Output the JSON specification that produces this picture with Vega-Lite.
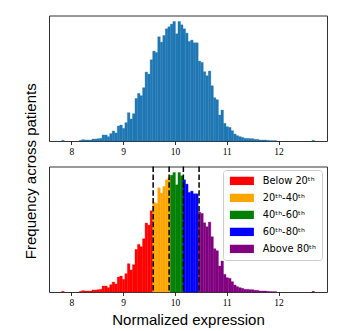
{
  "$schema": "https://vega.github.io/schema/vega-lite/v6.json",
  "background": "white",
  "padding": {"left": 23, "top": 14.5, "right": 5, "bottom": 5},
  "datasets": {
    "hist": [
      {"lo": 7.814, "hi": 7.8628, "count": 2, "group": "Below 20ᵗʰ"},
      {"lo": 8.1556, "hi": 8.2044, "count": 2, "group": "Below 20ᵗʰ"},
      {"lo": 8.2044, "hi": 8.2532, "count": 4, "group": "Below 20ᵗʰ"},
      {"lo": 8.2532, "hi": 8.302, "count": 3, "group": "Below 20ᵗʰ"},
      {"lo": 8.302, "hi": 8.3508, "count": 3, "group": "Below 20ᵗʰ"},
      {"lo": 8.3508, "hi": 8.3996, "count": 3, "group": "Below 20ᵗʰ"},
      {"lo": 8.3996, "hi": 8.4484, "count": 6, "group": "Below 20ᵗʰ"},
      {"lo": 8.4484, "hi": 8.4972, "count": 6, "group": "Below 20ᵗʰ"},
      {"lo": 8.4972, "hi": 8.546, "count": 7, "group": "Below 20ᵗʰ"},
      {"lo": 8.546, "hi": 8.5948, "count": 8, "group": "Below 20ᵗʰ"},
      {"lo": 8.5948, "hi": 8.6436, "count": 18, "group": "Below 20ᵗʰ"},
      {"lo": 8.6436, "hi": 8.6924, "count": 18, "group": "Below 20ᵗʰ"},
      {"lo": 8.6924, "hi": 8.7412, "count": 13, "group": "Below 20ᵗʰ"},
      {"lo": 8.7412, "hi": 8.79, "count": 22, "group": "Below 20ᵗʰ"},
      {"lo": 8.79, "hi": 8.8388, "count": 30, "group": "Below 20ᵗʰ"},
      {"lo": 8.8388, "hi": 8.8876, "count": 24, "group": "Below 20ᵗʰ"},
      {"lo": 8.8876, "hi": 8.9364, "count": 45, "group": "Below 20ᵗʰ"},
      {"lo": 8.9364, "hi": 8.9852, "count": 48, "group": "Below 20ᵗʰ"},
      {"lo": 8.9852, "hi": 9.034, "count": 38, "group": "Below 20ᵗʰ"},
      {"lo": 9.034, "hi": 9.0828, "count": 55, "group": "Below 20ᵗʰ"},
      {"lo": 9.0828, "hi": 9.1316, "count": 85, "group": "Below 20ᵗʰ"},
      {"lo": 9.1316, "hi": 9.1804, "count": 66, "group": "Below 20ᵗʰ"},
      {"lo": 9.1804, "hi": 9.2292, "count": 82, "group": "Below 20ᵗʰ"},
      {"lo": 9.2292, "hi": 9.278, "count": 128, "group": "Below 20ᵗʰ"},
      {"lo": 9.278, "hi": 9.3268, "count": 143, "group": "Below 20ᵗʰ"},
      {"lo": 9.3268, "hi": 9.3756, "count": 136, "group": "Below 20ᵗʰ"},
      {"lo": 9.3756, "hi": 9.4244, "count": 160, "group": "Below 20ᵗʰ"},
      {"lo": 9.4244, "hi": 9.4732, "count": 207, "group": "Below 20ᵗʰ"},
      {"lo": 9.4732, "hi": 9.522, "count": 201, "group": "Below 20ᵗʰ"},
      {"lo": 9.522, "hi": 9.5708, "count": 244, "group": "Below 20ᵗʰ"},
      {"lo": 9.5708, "hi": 9.6196, "count": 270, "group": "20ᵗʰ-40ᵗʰ"},
      {"lo": 9.6196, "hi": 9.6684, "count": 266, "group": "20ᵗʰ-40ᵗʰ"},
      {"lo": 9.6684, "hi": 9.7172, "count": 313, "group": "20ᵗʰ-40ᵗʰ"},
      {"lo": 9.7172, "hi": 9.766, "count": 297, "group": "20ᵗʰ-40ᵗʰ"},
      {"lo": 9.766, "hi": 9.8148, "count": 317, "group": "20ᵗʰ-40ᵗʰ"},
      {"lo": 9.8148, "hi": 9.8636, "count": 337, "group": "20ᵗʰ-40ᵗʰ"},
      {"lo": 9.8636, "hi": 9.9124, "count": 343, "group": "20ᵗʰ-40ᵗʰ"},
      {"lo": 9.9124, "hi": 9.9612, "count": 351, "group": "40ᵗʰ-60ᵗʰ"},
      {"lo": 9.9612, "hi": 10.01, "count": 359, "group": "40ᵗʰ-60ᵗʰ"},
      {"lo": 10.01, "hi": 10.0588, "count": 322, "group": "40ᵗʰ-60ᵗʰ"},
      {"lo": 10.0588, "hi": 10.1076, "count": 359, "group": "40ᵗʰ-60ᵗʰ"},
      {"lo": 10.1076, "hi": 10.1564, "count": 349, "group": "40ᵗʰ-60ᵗʰ"},
      {"lo": 10.1564, "hi": 10.2052, "count": 337, "group": "60ᵗʰ-80ᵗʰ"},
      {"lo": 10.2052, "hi": 10.254, "count": 324, "group": "60ᵗʰ-80ᵗʰ"},
      {"lo": 10.254, "hi": 10.3028, "count": 299, "group": "60ᵗʰ-80ᵗʰ"},
      {"lo": 10.3028, "hi": 10.3516, "count": 303, "group": "60ᵗʰ-80ᵗʰ"},
      {"lo": 10.3516, "hi": 10.4004, "count": 295, "group": "60ᵗʰ-80ᵗʰ"},
      {"lo": 10.4004, "hi": 10.4492, "count": 295, "group": "60ᵗʰ-80ᵗʰ"},
      {"lo": 10.4492, "hi": 10.498, "count": 240, "group": "Above 80ᵗʰ"},
      {"lo": 10.498, "hi": 10.5468, "count": 236, "group": "Above 80ᵗʰ"},
      {"lo": 10.5468, "hi": 10.5956, "count": 208, "group": "Above 80ᵗʰ"},
      {"lo": 10.5956, "hi": 10.6444, "count": 196, "group": "Above 80ᵗʰ"},
      {"lo": 10.6444, "hi": 10.6932, "count": 210, "group": "Above 80ᵗʰ"},
      {"lo": 10.6932, "hi": 10.742, "count": 166, "group": "Above 80ᵗʰ"},
      {"lo": 10.742, "hi": 10.7908, "count": 130, "group": "Above 80ᵗʰ"},
      {"lo": 10.7908, "hi": 10.8396, "count": 124, "group": "Above 80ᵗʰ"},
      {"lo": 10.8396, "hi": 10.8884, "count": 78, "group": "Above 80ᵗʰ"},
      {"lo": 10.8884, "hi": 10.9372, "count": 93, "group": "Above 80ᵗʰ"},
      {"lo": 10.9372, "hi": 10.986, "count": 53, "group": "Above 80ᵗʰ"},
      {"lo": 10.986, "hi": 11.0348, "count": 43, "group": "Above 80ᵗʰ"},
      {"lo": 11.0348, "hi": 11.0836, "count": 41, "group": "Above 80ᵗʰ"},
      {"lo": 11.0836, "hi": 11.1324, "count": 31, "group": "Above 80ᵗʰ"},
      {"lo": 11.1324, "hi": 11.1812, "count": 21, "group": "Above 80ᵗʰ"},
      {"lo": 11.1812, "hi": 11.23, "count": 16, "group": "Above 80ᵗʰ"},
      {"lo": 11.23, "hi": 11.2788, "count": 13, "group": "Above 80ᵗʰ"},
      {"lo": 11.2788, "hi": 11.3276, "count": 11, "group": "Above 80ᵗʰ"},
      {"lo": 11.3276, "hi": 11.3764, "count": 8, "group": "Above 80ᵗʰ"},
      {"lo": 11.3764, "hi": 11.4252, "count": 8, "group": "Above 80ᵗʰ"},
      {"lo": 11.4252, "hi": 11.474, "count": 7, "group": "Above 80ᵗʰ"},
      {"lo": 11.474, "hi": 11.5228, "count": 7, "group": "Above 80ᵗʰ"},
      {"lo": 11.5228, "hi": 11.5716, "count": 5, "group": "Above 80ᵗʰ"},
      {"lo": 11.5716, "hi": 11.6204, "count": 5, "group": "Above 80ᵗʰ"},
      {"lo": 11.6204, "hi": 11.6692, "count": 3, "group": "Above 80ᵗʰ"},
      {"lo": 11.6692, "hi": 11.718, "count": 3, "group": "Above 80ᵗʰ"},
      {"lo": 11.718, "hi": 11.7668, "count": 3, "group": "Above 80ᵗʰ"},
      {"lo": 11.7668, "hi": 11.8156, "count": 2, "group": "Above 80ᵗʰ"},
      {"lo": 11.8156, "hi": 11.8644, "count": 1, "group": "Above 80ᵗʰ"},
      {"lo": 11.8644, "hi": 11.9132, "count": 1, "group": "Above 80ᵗʰ"},
      {"lo": 11.9132, "hi": 11.962, "count": 1, "group": "Above 80ᵗʰ"},
      {"lo": 12.6452, "hi": 12.694, "count": 2, "group": "Above 80ᵗʰ"}
    ],
    "quantiles": [
      {"q": 9.58},
      {"q": 9.888},
      {"q": 10.163},
      {"q": 10.466}
    ]
  },
  "title": {
    "text": "Frequency across patients",
    "orient": "left",
    "anchor": "middle",
    "font": "Liberation Sans",
    "fontSize": 15,
    "fontWeight": "normal",
    "color": "black",
    "offset": 10
  },
  "spacing": 25,
  "bounds": "flush",
  "resolve": {"scale": {"color": "independent", "stroke": "independent"}, "legend": {"color": "independent"}},
  "vconcat": [
    {
      "width": 278,
      "height": 125.5,
      "data": {"name": "hist"},
      "mark": {"type": "rect", "fill": "#1f77b4", "stroke": "#1f77b4", "strokeWidth": 0.35},
      "encoding": {
        "x": {
          "field": "lo", "type": "quantitative",
          "scale": {"domain": [7.57, 12.935], "nice": false, "zero": false},
          "axis": {"values": [8, 9, 10, 11, 12], "format": "d", "title": null}
        },
        "x2": {"field": "hi"},
        "y": {
          "field": "count", "type": "quantitative",
          "scale": {"domain": [0, 377], "nice": false},
          "axis": null
        },
        "y2": {"datum": 0}
      }
    },
    {
      "width": 278,
      "height": 125.5,
      "layer": [
        {
          "data": {"name": "hist"},
          "mark": {"type": "rect", "strokeWidth": 0.35},
          "encoding": {
            "x": {
              "field": "lo", "type": "quantitative",
              "scale": {"domain": [7.57, 12.935], "nice": false, "zero": false},
              "axis": {"values": [8, 9, 10, 11, 12], "format": "d", "title": "Normalized expression",
                       "titleFont": "Liberation Sans", "titleFontSize": 15, "titleFontWeight": "normal",
                       "titleColor": "black", "titlePadding": 5}
            },
            "x2": {"field": "hi"},
            "y": {
              "field": "count", "type": "quantitative",
              "scale": {"domain": [0, 377], "nice": false},
              "axis": null
            },
            "y2": {"datum": 0},
            "stroke": {
              "field": "group", "type": "nominal",
              "scale": {
                "domain": ["Below 20ᵗʰ", "20ᵗʰ-40ᵗʰ", "40ᵗʰ-60ᵗʰ", "60ᵗʰ-80ᵗʰ", "Above 80ᵗʰ"],
                "range": ["#ff0000", "#ffa500", "#008000", "#0000ff", "#800080"]
              },
              "legend": null
            },
            "color": {
              "field": "group", "type": "nominal",
              "scale": {
                "domain": ["Below 20ᵗʰ", "20ᵗʰ-40ᵗʰ", "40ᵗʰ-60ᵗʰ", "60ᵗʰ-80ᵗʰ", "Above 80ᵗʰ"],
                "range": ["#ff0000", "#ffa500", "#008000", "#0000ff", "#800080"]
              },
              "legend": {
                "title": null,
                "orient": "none",
                "legendX": 174,
                "legendY": 3.5,
                "symbolType": "M-1,-1.04L5,-1.04L5,1.04L-1,1.04Z",
                "symbolSize": 64,
                "symbolStrokeWidth": 0,
                "symbolOpacity": 1,
                "labelOffset": 24,
                "labelFont": "DejaVu Sans",
                "labelFontSize": 9.8,
                "labelColor": "black",
                "padding": 6,
                "rowPadding": 6,
                "fillColor": "white",
                "strokeColor": "#cccccc",
                "cornerRadius": 3
              }
            }
          }
        },
        {
          "data": {"name": "quantiles"},
          "mark": {"type": "rule", "color": "black", "strokeWidth": 1.5, "strokeDash": [5.5, 2.4]},
          "encoding": {
            "x": {"field": "q", "type": "quantitative"}
          }
        }
      ]
    }
  ],
  "config": {
    "view": {"stroke": "#333333", "strokeWidth": 1},
    "axis": {
      "grid": false,
      "domain": false,
      "ticks": true,
      "tickColor": "black",
      "tickSize": 3.5,
      "tickWidth": 0.8,
      "labelFont": "Liberation Serif",
      "labelFontSize": 9.5,
      "labelColor": "black",
      "labelPadding": 2
    }
  }
}
